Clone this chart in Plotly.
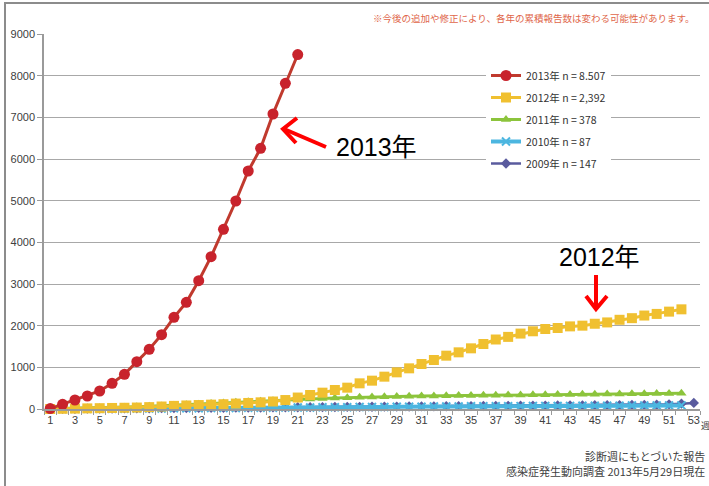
import plotly.graph_objects as go

weeks_2013 = list(range(1, 22))
cases_2013 = [10, 112, 216, 312, 432, 616, 832, 1136, 1432, 1784, 2200, 2560,
              3080, 3656, 4312, 4992, 5712, 6256, 7080, 7816, 8507]

weeks_2012 = list(range(1, 53))
cases_2012 = [0, 5, 10, 15, 20, 25, 30, 35, 45, 60, 75, 85, 95, 105, 115, 130, 145, 160,
              180, 215, 275, 336, 392, 456, 512, 616, 680, 776, 880, 976, 1080, 1176,
              1280, 1360, 1456, 1560, 1668, 1731, 1810, 1865, 1920, 1944, 1983, 2000,
              2046, 2078, 2141, 2180, 2243, 2282, 2337, 2392]

weeks_2011 = list(range(1, 53))
cases_2011 = [5, 10, 15, 20, 27, 35, 45, 55, 65, 75, 88, 100, 115, 130, 145, 160, 172,
              185, 198, 212, 226, 240, 252, 262, 272, 280, 288, 294, 300, 305, 310, 314,
              318, 322, 325, 328, 331, 334, 337, 340, 343, 346, 349, 352, 355, 358, 361,
              364, 367, 370, 374, 378]

weeks_2010 = list(range(1, 53))
cases_2010 = [1, 2, 3, 4, 5, 6, 8, 10, 12, 14, 16, 18, 20, 22, 24, 26, 28, 30, 32, 34,
              36, 38, 40, 42, 44, 46, 48, 50, 52, 54, 56, 58, 60, 62, 64, 66, 67, 68, 69,
              70, 72, 74, 75, 76, 78, 79, 80, 82, 83, 84, 86, 87]

weeks_2009 = list(range(1, 54))
cases_2009 = [2, 4, 6, 8, 10, 12, 14, 16, 18, 20, 22, 24, 26, 28, 30, 32, 34, 36, 38,
              40, 42, 44, 46, 48, 50, 52, 54, 56, 58, 60, 62, 64, 66, 68, 70, 72, 74, 76,
              78, 80, 82, 84, 86, 88, 90, 92, 94, 96, 98, 102, 112, 128, 147]

x_tick_vals = list(range(1, 54, 2))
y_tick_vals = list(range(0, 9001, 1000))

legend_names = ["2013年 n = 8.507", "2012年 n = 2,392", "2011年 n = 378",
                "2010年 n = 87", "2009年 n = 147"]

FONT = "Liberation Sans, Arial, Noto Sans CJK JP, sans-serif"
JFONT = "Noto Sans CJK JP, Liberation Sans, sans-serif"

W, H = 709, 486
L, R, T, B = 44, 700, 34, 409


def px(x):
    return (x - L) / (R - L)


def py(y):
    return (B - y) / (B - T)


fig = go.Figure()

fig.add_trace(go.Scatter(
    x=weeks_2009, y=cases_2009, name=legend_names[4], mode="lines+markers",
    line=dict(color="#5A5B9E", width=2.5),
    marker=dict(symbol="diamond", size=8, color="#5A5B9E"),
    legendrank=5, legendgroup="e", cliponaxis=False))
fig.add_trace(go.Scatter(
    x=weeks_2010, y=cases_2010, name=legend_names[3], mode="lines+markers",
    line=dict(color="#4CB6E0", width=4),
    marker=dict(symbol="x-thin", size=8, color="#4CB6E0",
                line=dict(color="#4CB6E0", width=2)),
    legendrank=4, legendgroup="d", cliponaxis=False))
fig.add_trace(go.Scatter(
    x=weeks_2011, y=cases_2011, name=legend_names[2], mode="lines+markers",
    line=dict(color="#8CC43C", width=3),
    marker=dict(symbol="triangle-up", size=9, color="#8CC43C"),
    legendrank=3, legendgroup="c", cliponaxis=False))
fig.add_trace(go.Scatter(
    x=weeks_2012, y=cases_2012, name=legend_names[1], mode="lines+markers",
    line=dict(color="#F0C030", width=3),
    marker=dict(symbol="square", size=10, color="#F0C030"),
    legendrank=2, legendgroup="b", cliponaxis=False))
fig.add_trace(go.Scatter(
    x=weeks_2013, y=cases_2013, name=legend_names[0], mode="lines+markers",
    line=dict(color="#C03A2E", width=3),
    marker=dict(symbol="circle", size=11, color="#C8232C"),
    legendrank=1, legendgroup="a", cliponaxis=False))

grey = "#9A9A9A"

shapes = [
    dict(type="line", xref="paper", yref="paper", x0=px(5), x1=px(5), y0=py(3), y1=py(490),
         line=dict(color="#8C8C8C", width=2)),
    dict(type="line", xref="paper", yref="paper", x0=px(4), x1=px(712), y0=py(3), y1=py(3),
         line=dict(color="#8C8C8C", width=2)),
    dict(type="path", xref="paper", yref="paper",
         path=f"M {px(326)} {py(147)} L {px(284)} {py(129)}",
         line=dict(color="#FF0000", width=4)),
    dict(type="path", xref="paper", yref="paper",
         path=f"M {px(297)} {py(118)} L {px(283)} {py(129)} L {px(296)} {py(143)}",
         line=dict(color="#FF0000", width=4)),
    dict(type="path", xref="paper", yref="paper",
         path=f"M {px(596)} {py(275)} L {px(596)} {py(309)}",
         line=dict(color="#FF0000", width=4)),
    dict(type="path", xref="paper", yref="paper",
         path=f"M {px(586)} {py(296)} L {px(596)} {py(309)} L {px(607)} {py(296)}",
         line=dict(color="#FF0000", width=4)),
]

annotations = [
    dict(text="※今後の追加や修正により、各年の累積報告数は変わる可能性があります。",
         xref="paper", yref="paper", x=px(696), y=py(18), xanchor="right", yanchor="middle",
         showarrow=False, font=dict(family=JFONT, size=9.5, color="#E0664A")),
    dict(text="2013年", xref="paper", yref="paper", x=px(377), y=py(147),
         xanchor="center", yanchor="middle", showarrow=False,
         font=dict(family=FONT, size=25, color="#000000")),
    dict(text="2012年", xref="paper", yref="paper", x=px(599), y=py(257),
         xanchor="center", yanchor="middle", showarrow=False,
         font=dict(family=FONT, size=25, color="#000000")),
    dict(text="週", xref="paper", yref="paper", x=px(699), y=py(425),
         xanchor="left", yanchor="middle", showarrow=False,
         font=dict(family=JFONT, size=9, color="#404040")),
    dict(text="診断週にもとづいた報告", xref="paper", yref="paper", x=px(707), y=py(456),
         xanchor="right", yanchor="middle", showarrow=False,
         font=dict(family=JFONT, size=11, color="#404040")),
    dict(text="感染症発生動向調査 2013年5月29日現在", xref="paper", yref="paper",
         x=px(707), y=py(471), xanchor="right", yanchor="middle", showarrow=False,
         font=dict(family=JFONT, size=11, color="#404040")),
]

fig.update_layout(
    width=W, height=H,
    margin=dict(l=L, r=W - R, t=T, b=H - B, pad=0),
    paper_bgcolor="white", plot_bgcolor="white",
    font=dict(family=FONT, size=11, color="#404040"),
    showlegend=True,
    legend=dict(x=px(486), y=py(61), xanchor="left", yanchor="top",
                bgcolor="white", borderwidth=0,
                font=dict(family=JFONT, size=10.5, color="#333333"),
                itemwidth=30, tracegroupgap=3, traceorder="grouped"),
    shapes=shapes, annotations=annotations,
    xaxis=dict(range=[0.5, 53.5], tickmode="array", tickvals=x_tick_vals,
               ticks="", showgrid=False, zeroline=False,
               showline=True, linecolor=grey, linewidth=1.5,
               tickfont=dict(size=11, color="#404040"),
               minor=dict(ticks="outside", ticklen=4, tickcolor=grey,
                          tickmode="linear", tick0=0.5, dtick=1, showgrid=False)),
    yaxis=dict(range=[0, 9000], tickmode="array", tickvals=y_tick_vals,
               ticks="outside", ticklen=5, tickcolor=grey,
               showgrid=True, gridcolor="#A8A8A8", gridwidth=1.2, zeroline=False,
               showline=True, linecolor=grey, linewidth=1.5,
               tickfont=dict(size=11, color="#404040")),
)

fig.write_html("out.html")
